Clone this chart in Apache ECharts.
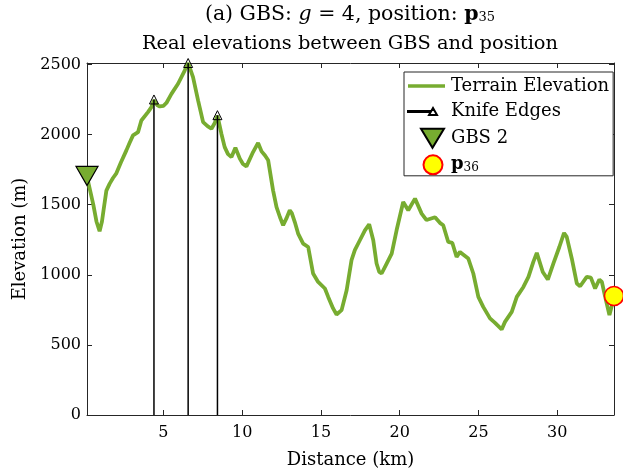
<!DOCTYPE html>
<html><head><meta charset="utf-8">
<script src="https://cdn.jsdelivr.net/npm/echarts@6/dist/echarts.min.js"></script>
<style>html,body{margin:0;padding:0;background:#fff}#c{width:623px;height:474px}</style>
</head><body><div id="c"></div>
<script>
// Terrain profile (km, m)
const distanceKm = [0.15,0.35,0.55,0.75,0.95,1.1,1.2,1.38,1.59,1.8,2.0,2.3,2.65,2.85,3.07,3.39,3.6,4.02,4.24,4.40,4.6,4.77,5.0,5.19,5.51,5.93,6.35,6.57,6.88,7.2,7.52,7.8,8.05,8.25,8.43,8.68,8.89,9.1,9.32,9.57,9.85,10.05,10.27,10.69,11.01,11.23,11.45,11.65,11.96,12.18,12.4,12.6,12.8,13.02,13.15,13.34,13.55,13.87,14.19,14.5,14.82,15.25,15.46,15.77,15.99,16.31,16.63,16.94,17.15,17.47,17.79,18.06,18.32,18.53,18.7,18.85,19.17,19.49,19.8,20.22,20.54,20.97,21.39,21.7,22.24,22.55,22.76,23.08,23.34,23.61,23.82,24.35,24.67,24.99,25.3,25.73,26.05,26.47,26.68,27.11,27.43,27.85,28.17,28.48,28.7,28.8,29.08,29.4,29.75,30.13,30.43,30.6,30.92,31.24,31.45,31.87,32.13,32.4,32.67,32.83,33.04,33.31,33.6];
const elevationM = [1700,1600,1500,1380,1310,1380,1460,1600,1650,1690,1721,1800,1887,1940,1994,2017,2100,2160,2195,2245,2210,2200,2205,2225,2290,2362,2456,2510,2409,2243,2088,2060,2041,2080,2135,2006,1910,1860,1839,1906,1828,1790,1773,1875,1940,1880,1850,1816,1602,1483,1410,1353,1400,1460,1440,1376,1294,1222,1198,1009,949,902,842,760,717,748,890,1104,1175,1246,1317,1360,1246,1080,1020,1009,1080,1151,1317,1519,1460,1543,1436,1390,1410,1370,1353,1234,1227,1127,1163,1116,1009,842,771,689,657,610,664,735,842,913,985,1092,1156,1151,1020,966,1080,1198,1298,1270,1116,938,918,985,980,902,966,949,842,712,840];
// Knife edges
const knifeDistKm = [4.40, 6.57, 8.43];
const knifeElevM = [2250, 2510, 2138];
// Markers
const gbsPoint = [0.15, 1705];
const posPoint = [33.6, 849];
// Axes
const xRange = [0.15, 33.6];
const yRange = [0, 2510];
const xTickStep = 5;
const yTickStep = 500;

const FONT = 'DejaVu Serif';
const AX = '#262626';
const chart = echarts.init(document.getElementById('c'), null, {renderer: 'canvas'});

const terrain = distanceKm.map((d, i) => [d, elevationM[i]]);
const knifeSeries = knifeDistKm.map((d, i) => ({
  name: 'Knife Edges', type: 'line', z: 3, clip: false,
  symbol: 'triangle', symbolSize: 9, showSymbol: true,
  itemStyle: {color: 'rgba(255,255,255,0)', borderColor: '#000', borderWidth: 1},
  lineStyle: {color: '#000', width: 1.5},
  data: [{value: [d, 0], symbol: 'none'}, [d, knifeElevM[i]]]
}));

const axisCommon = {
  axisLine: {show: true, onZero: false, lineStyle: {color: AX, width: 1}},
  axisTick: {show: true, inside: true, length: 5, lineStyle: {color: AX}},
  splitLine: {show: false}
};

// legend icons laid out in a 38x20 box (leading moves fix the box)
const BOX = 'M0,0M38,20';
const legendIcons = {
  terrain: 'path://' + BOX + 'M0,8.3L37,8.3L37,11.7L0,11.7Z',
  knife: 'path://' + BOX + 'M0,9.5L22,9.5L22,10.5L0,10.5Z M21,13.5L29,13.5L25,6.5Z',
  gbs: 'path://' + BOX + 'M13,0.5L36,0.5L24.5,19.5Z',
  pos: 'path://' + BOX + 'M34.5,10A9.5,9.5,0,1,1,15.5,10A9.5,9.5,0,1,1,34.5,10Z'
};

chart.setOption({
  animation: false,
  title: {
    left: 350, top: 4, textAlign: 'center', padding: 0, itemGap: 9,
    text: '{n|(a) GBS: }{i|g}{n| = 4, position: }{b|p}{s|35}',
    textStyle: {
      fontFamily: FONT, fontSize: 20.5, color: '#000', fontWeight: 'normal',
      rich: {
        n: {fontFamily: FONT, fontSize: 20.5, color: '#000'},
        i: {fontFamily: FONT, fontSize: 20.5, color: '#000', fontStyle: 'italic'},
        b: {fontFamily: FONT, fontSize: 20.5, color: '#000', fontWeight: 'bold'},
        s: {fontFamily: FONT, fontSize: 13, color: '#000', padding: [7, 0, 0, 0]}
      }
    },
    subtext: 'Real elevations between GBS and position',
    subtextStyle: {fontFamily: FONT, fontSize: 19.4, color: '#000'}
  },
  legend: {
    orient: 'vertical', left: 404, top: 72, padding: [4, 4, 0, 3],
    itemGap: 4.6, itemWidth: 38, itemHeight: 20,
    borderColor: AX, borderWidth: 1, backgroundColor: '#fff',
    data: [
      {name: 'Terrain Elevation', icon: legendIcons.terrain},
      {name: 'Knife Edges', icon: legendIcons.knife},
      {name: 'GBS 2', icon: legendIcons.gbs},
      {name: 'p36', icon: legendIcons.pos}
    ],
    formatter: n => n === 'p36' ? '{b|p}{s|36}' : n,
    textStyle: {
      fontFamily: FONT, fontSize: 18, color: '#000',
      rich: {
        b: {fontFamily: FONT, fontSize: 18, fontWeight: 'bold', color: '#000'},
        s: {fontFamily: FONT, fontSize: 12, color: '#000', padding: [7, 0, 0, 0]}
      }
    }
  },
  grid: {left: 87, right: 9, top: 63, bottom: 59, containLabel: false},
  xAxis: [
    Object.assign({
      type: 'value', position: 'bottom', min: xRange[0], max: xRange[1],
      name: 'Distance (km)', nameLocation: 'middle', nameGap: 36,
      nameTextStyle: {fontFamily: FONT, fontSize: 18, color: '#000'},
      axisLabel: {
        fontFamily: FONT, fontSize: 16, color: '#000', margin: 10,
        formatter: v => (Math.abs(v % xTickStep) < 1e-9 ? String(v) : '')
      }
    }, axisCommon),
    Object.assign({
      type: 'value', position: 'top', min: xRange[0], max: xRange[1],
      axisLabel: {show: false}
    }, axisCommon)
  ],
  yAxis: [
    Object.assign({
      type: 'value', position: 'left', min: yRange[0], max: yRange[1], interval: yTickStep,
      name: 'Elevation (m)', nameLocation: 'middle', nameGap: 54,
      nameTextStyle: {fontFamily: FONT, fontSize: 18, color: '#000'},
      axisLabel: {
        fontFamily: FONT, fontSize: 16, color: '#000', margin: 6,
        formatter: v => (v % yTickStep === 0 ? String(v) : '')
      }
    }, axisCommon),
    Object.assign({
      type: 'value', position: 'right', min: yRange[0], max: yRange[1], interval: yTickStep,
      axisLabel: {show: false}
    }, axisCommon)
  ],
  series: [
    {
      name: 'Terrain Elevation', type: 'line', z: 2, symbol: 'none', showSymbol: false,
      lineStyle: {color: '#77AC30', width: 3.8}, itemStyle: {color: '#77AC30'},
      data: terrain
    },
    ...knifeSeries,
    {
      name: 'GBS 2', type: 'scatter', z: 4, clip: false,
      symbol: 'path://M0,0L2,0L1,1.7Z', symbolSize: [22, 19],
      itemStyle: {color: '#77AC30', borderColor: '#000', borderWidth: 1.2, opacity: 1},
      data: [gbsPoint]
    },
    {
      name: 'p36', type: 'scatter', z: 5, clip: false,
      symbol: 'circle', symbolSize: 19,
      itemStyle: {color: '#FFFF00', borderColor: '#FF0000', borderWidth: 1.5, opacity: 1},
      data: [posPoint]
    }
  ]
});
</script></body></html>
